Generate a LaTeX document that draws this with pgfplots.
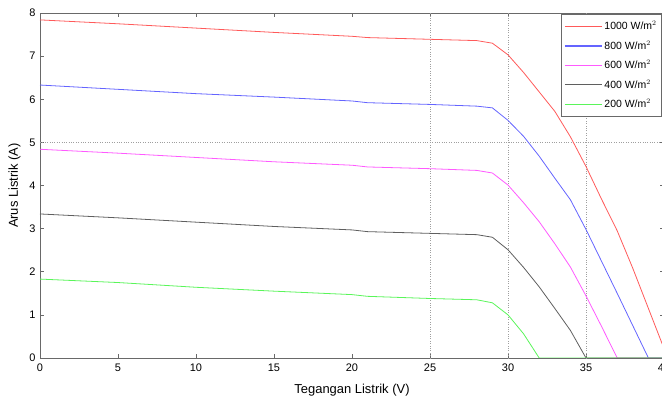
\documentclass[border=0pt]{standalone}
\usepackage{fontspec}
\setmainfont{Liberation Sans}
\usepackage{pgfplots}
\pgfplotsset{compat=1.18}
\definecolor{cR}{RGB}{255,90,90}
\definecolor{cB}{RGB}{100,100,255}
\definecolor{cM}{RGB}{255,90,255}
\definecolor{cK}{RGB}{95,95,95}
\definecolor{cG}{RGB}{90,245,90}
\definecolor{axc}{RGB}{105,105,105}
\begin{document}
\begin{tikzpicture}
% page frame: axis box is 624 x 345 with its lower left corner at the origin
\path[use as bounding box] (-40bp,-48bp) rectangle (622bp,358bp);
\begin{axis}[
  at={(0,0)}, anchor=south west,
  width=624bp, height=345bp, scale only axis,
  xmin=0, xmax=40, ymin=0, ymax=8,
  xtick={0,5,...,40}, ytick={0,1,...,8},
  tick align=inside,
  major tick length=4bp,
  axis line style={axc, line width=0.8bp},
  tick style={axc, line width=0.6bp},
  extra x ticks={25,30,35}, extra x tick labels={},
  extra x tick style={grid=major, major tick length=0pt},
  extra y ticks={5}, extra y tick labels={},
  extra y tick style={grid=major, major tick length=0pt},
  major grid style={dotted, gray!75, line width=0.6bp},
  /pgf/number format/assume math mode=true,
  tick label style={font=\fontsize{11}{12}\selectfont},
  xticklabel style={yshift=-2bp},
  yticklabel style={xshift=-1bp},
  xlabel={Tegangan Listrik (V)},
  ylabel={Arus Listrik (A)},
  label style={font=\fontsize{13}{15}\selectfont},
  xlabel style={yshift=-6bp},
  ylabel style={yshift=2bp},
  legend style={at={(rel axis cs:0.9968,0.997)}, anchor=north east,
    draw=axc, line width=0.8bp,
    font=\fontsize{10.5}{12}\selectfont, row sep=1.5bp, inner xsep=3bp, inner ysep=3bp,
    nodes={inner ysep=4bp}},
  legend cell align=left,
  legend image code/.code={\draw[#1, line width=1.3bp] (0bp,0bp) -- (37bp,0bp);},
  every axis plot/.append style={line width=0.8bp},
]
\addplot[cR] coordinates {
  (0,7.84) (5,7.75) (10,7.65) (15,7.55) (20,7.46) (21,7.43) (25,7.39) (28,7.36)
  (29,7.30) (30,7.03) (31,6.62) (32,6.17) (33,5.72) (34,5.13) (35,4.44)
  (36,3.68) (37,2.95) (38,2.08) (39,1.15) (40,0.22)
};
\addlegendentry{1000 W/m$^2$}
\addplot[cB] coordinates {
  (0,6.33) (5,6.23) (10,6.13) (15,6.05) (20,5.96) (21,5.92) (25,5.88) (28,5.84)
  (29,5.80) (30,5.51) (31,5.14) (32,4.68) (33,4.17) (34,3.67) (35,2.98)
  (36,2.24) (37,1.50) (38,0.75) (39,0) (40,0)
};
\addlegendentry{800 W/m$^2$}
\addplot[cM] coordinates {
  (0,4.84) (5,4.75) (10,4.65) (15,4.55) (20,4.47) (21,4.43) (25,4.39) (28,4.35)
  (29,4.29) (30,4.01) (31,3.60) (32,3.16) (33,2.65) (34,2.11) (35,1.44)
  (36,0.73) (37,0) (40,0)
};
\addlegendentry{600 W/m$^2$}
\addplot[cK] coordinates {
  (0,3.34) (5,3.25) (10,3.15) (15,3.05) (20,2.97) (21,2.93) (25,2.89) (28,2.86)
  (29,2.80) (30,2.51) (31,2.10) (32,1.65) (33,1.15) (34,0.64) (35,0) (40,0)
};
\addlegendentry{400 W/m$^2$}
\addplot[cG] coordinates {
  (0,1.83) (5,1.75) (10,1.64) (15,1.55) (20,1.47) (21,1.43) (25,1.38) (28,1.35)
  (29,1.28) (30,1.00) (31,0.56) (32,0) (40,0)
};
\addlegendentry{200 W/m$^2$}
\end{axis}
\end{tikzpicture}
\end{document}
